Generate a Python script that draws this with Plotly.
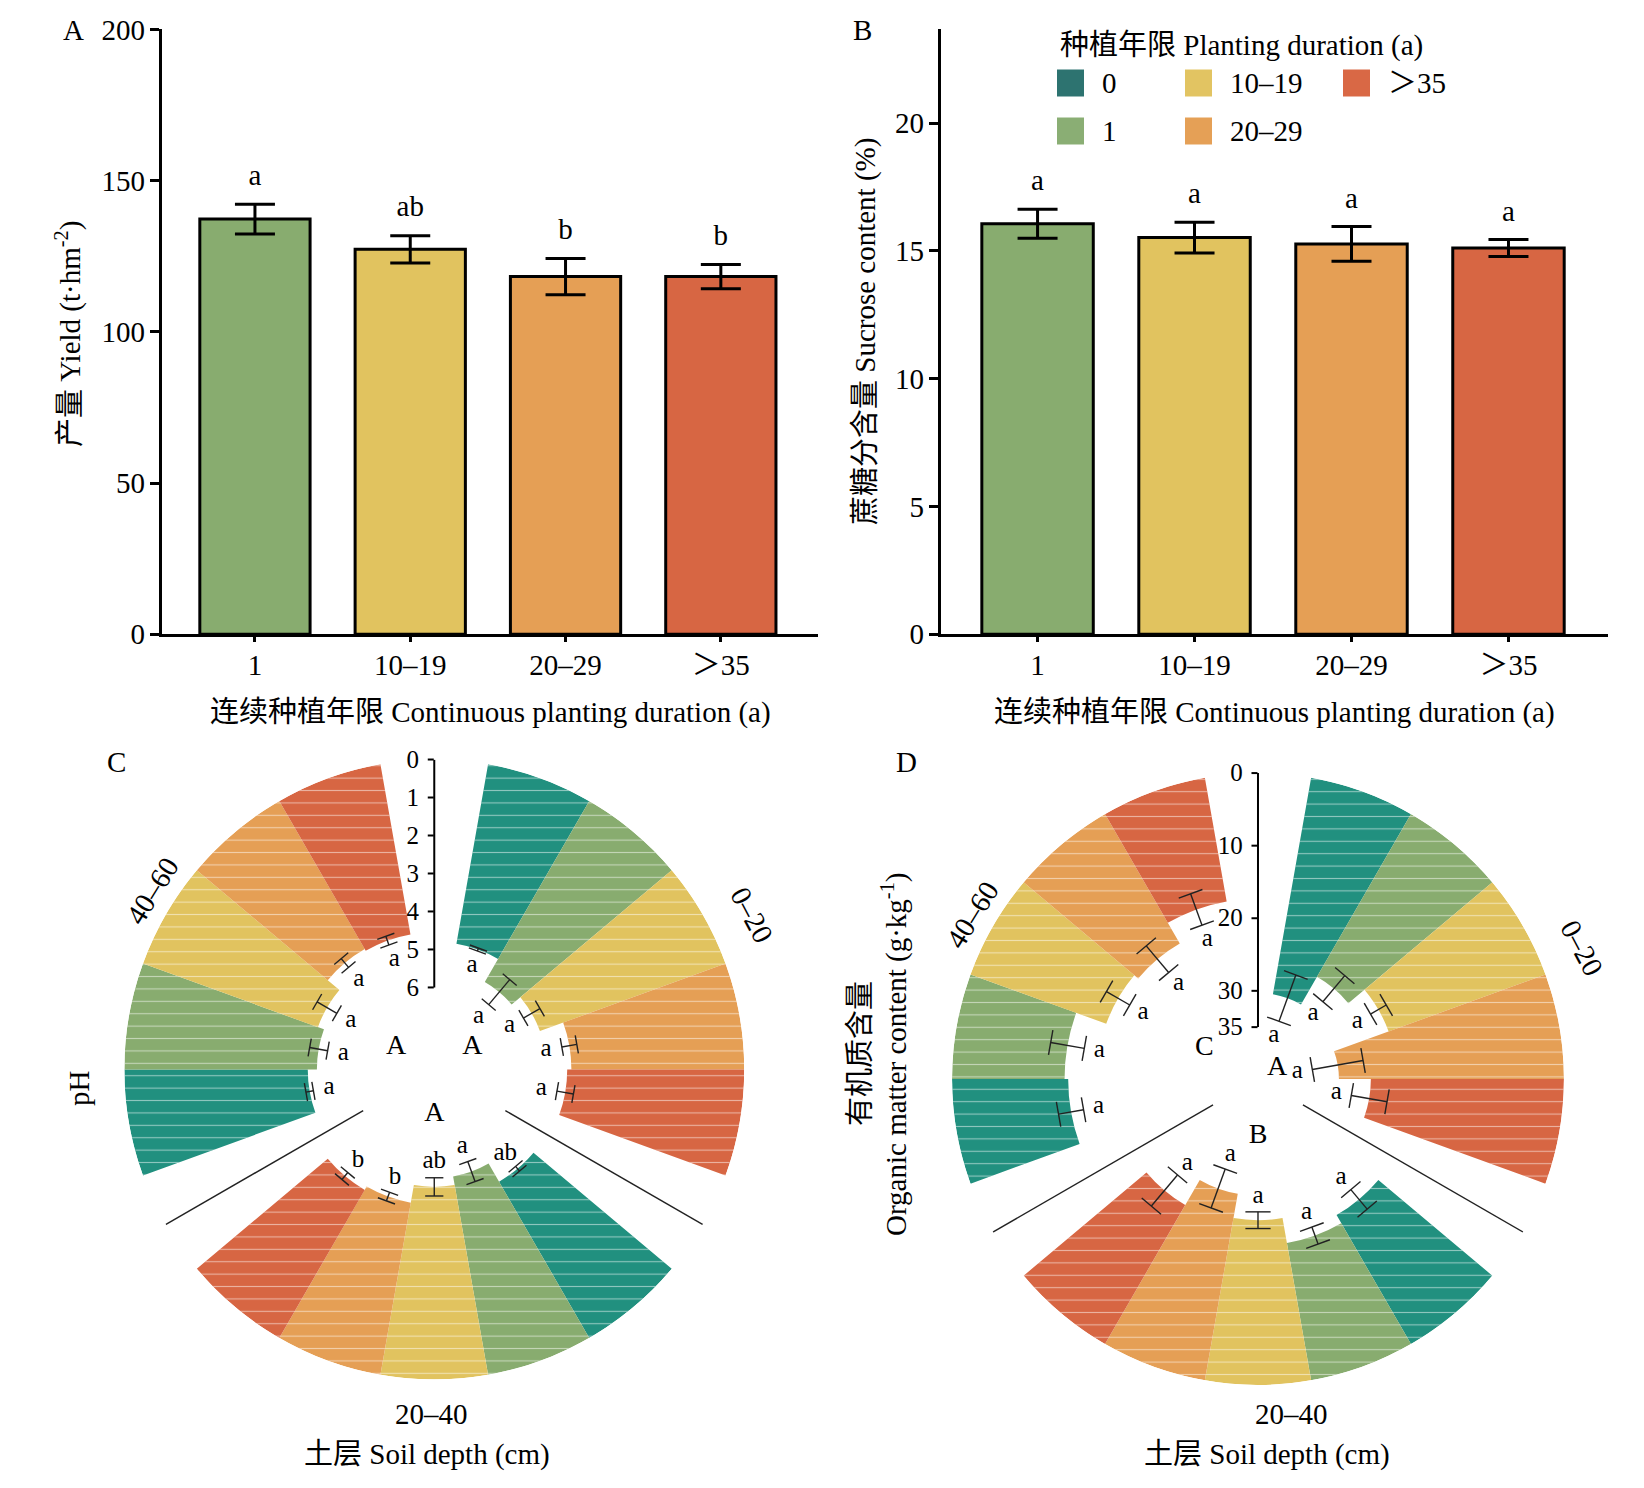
import plotly.graph_objects as go

W, H = 1644, 1488
SERIF = "Liberation Serif, 'Times New Roman', 'Noto Sans CJK SC', serif"

# ---------------- data ----------------
durations = ["1", "10–19", "20–29", "＞35"]
years = ["0", "1", "10–19", "20–29", "＞35"]
depths = ["0–20", "20–40", "40–60"]

yield_mean = [137.3, 127.3, 118.3, 118.3]
yield_se = [4.9, 4.5, 6.0, 4.0]
yield_sig = ["a", "ab", "b", "b"]

sucrose_mean = [16.06, 15.52, 15.27, 15.11]
sucrose_se = [0.57, 0.60, 0.68, 0.33]
sucrose_sig = ["a", "a", "a", "a"]

# pH by soil depth, order: 0, 1, 10-19, 20-29, >35
ph_0_20 = [4.80, 5.50, 5.20, 4.55, 4.66]
ph_20_40 = [4.75, 5.30, 5.07, 4.60, 4.50]
ph_40_60 = [4.83, 5.07, 4.90, 4.50, 4.55]
ph_se_0_20 = [0.04, 0.43, 0.25, 0.20, 0.22]
ph_se_20_40 = [0.08, 0.28, 0.24, 0.12, 0.12]
ph_se_40_60 = [0.10, 0.24, 0.30, 0.15, 0.12]
ph_sig_0_20 = ["a", "a", "a", "a", "a"]
ph_sig_20_40 = ["ab", "a", "ab", "b", "b"]
ph_sig_40_60 = ["a", "a", "a", "a", "a"]
ph_group_sig = ["A", "A", "A"]

# organic matter (g/kg)
om_0_20 = [30.3, 25.9, 23.0, 31.0, 26.6]
om_20_40 = [20.5, 19.2, 22.7, 26.1, 22.1]
om_40_60 = [16.0, 15.5, 19.9, 20.6, 17.3]
om_se_0_20 = [3.4, 2.35, 1.25, 3.55, 2.5]
om_se_20_40 = [1.75, 1.25, 1.15, 2.85, 2.8]
om_se_40_60 = [1.75, 2.35, 1.85, 2.4, 2.3]
om_sig_0_20 = ["a", "a", "a", "a", "a"]
om_sig_20_40 = ["a", "a", "a", "a", "a"]
om_sig_40_60 = ["a", "a", "a", "a", "a"]
om_group_sig = ["A", "B", "C"]

colors = ["#21907f", "#88ac6f", "#e1c35f", "#e59f55", "#d76643"]
legend_colors = ["#2d7370", "#8aae74", "#e2c462", "#e5a056", "#d96845"]

fig = go.Figure()


def note(text, x, y, size=29, angle=0, xanchor="center"):
    return dict(text=text, x=x / W, y=1 - y / H, xref="paper", yref="paper",
                showarrow=False, textangle=angle, xanchor=xanchor, yanchor="middle",
                font=dict(size=size, family=SERIF, color="black"))


def bar_panel(means, ses, sigs, xa, ya, gap):
    fig.add_trace(go.Bar(
        x=durations, y=means, width=0.71,
        marker=dict(color=colors[1:], line=dict(color="black", width=3)),
        error_y=dict(type="data", array=ses, color="black", thickness=3, width=20),
        xaxis=xa, yaxis=ya, showlegend=False, hoverinfo="skip"))
    fig.add_trace(go.Scatter(
        x=durations, y=[m + s + gap for m, s in zip(means, ses)],
        mode="text", text=sigs, textposition="top center",
        textfont=dict(size=29, family=SERIF, color="black"),
        xaxis=xa, yaxis=ya, showlegend=False, hoverinfo="skip"))


def polar_panel(sub, means, ses, sigs, group_sig, group_r, inner, outer, letter_gap, cap):
    theta, r, e, col, lab = [], [], [], [], []
    for g in range(3):
        for k in range(5):
            theta.append(120 * g + 20 * (k + 1))
            r.append(means[g][k])
            e.append(ses[g][k])
            col.append(colors[k])
            lab.append(sigs[g][k])
    fig.add_trace(go.Barpolar(
        r=r, theta=theta, width=20, subplot=sub, showlegend=False, hoverinfo="skip",
        marker=dict(color=col, line=dict(width=0))))
    # thin white stripes over the wedges
    fig.add_trace(go.Barpolar(
        r=r, theta=theta, width=20, subplot=sub, showlegend=False, hoverinfo="skip",
        marker=dict(color="white", opacity=0.5, line=dict(width=0),
                    pattern=dict(shape="-", size=12.4, solidity=0.09, fillmode="replace"))))
    # error bars
    er, et = [], []
    for ri, ei, ti in zip(r, e, theta):
        er += [ri - ei, ri + ei, None]
        et += [ti, ti, None]
    fig.add_trace(go.Scatterpolar(r=er, theta=et, mode="lines", subplot=sub,
                                  line=dict(color="#222222", width=1.4),
                                  showlegend=False, hoverinfo="skip"))
    fig.add_trace(go.Scatterpolar(
        r=[ri - ei for ri, ei in zip(r, e)] + [ri + ei for ri, ei in zip(r, e)],
        theta=theta + theta, mode="markers", subplot=sub, showlegend=False, hoverinfo="skip",
        marker=dict(symbol="line-ew", size=cap, angle=theta + theta,
                    line=dict(color="#222222", width=1.4))))
    # letters
    fig.add_trace(go.Scatterpolar(
        r=[ri + ei + letter_gap for ri, ei in zip(r, e)], theta=theta, mode="text",
        text=lab, subplot=sub, showlegend=False, hoverinfo="skip",
        textfont=dict(size=25, family=SERIF, color="black")))
    fig.add_trace(go.Scatterpolar(
        r=group_r, theta=[60, 180, 300], mode="text", text=group_sig, subplot=sub,
        showlegend=False, hoverinfo="skip",
        textfont=dict(size=28, family=SERIF, color="black")))
    # radial axis line and group separators
    fig.add_trace(go.Scatterpolar(r=[0, inner], theta=[0, 0], mode="lines", subplot=sub,
                                  line=dict(color="black", width=2),
                                  showlegend=False, hoverinfo="skip"))
    fig.add_trace(go.Scatterpolar(r=[inner, outer, None, inner, outer],
                                  theta=[120, 120, None, 240, 240],
                                  mode="lines", subplot=sub, cliponaxis=False,
                                  line=dict(color="#222222", width=1.4),
                                  showlegend=False, hoverinfo="skip"))


def polar_layout(dx, dy, rmax, tickvals):
    return dict(
        domain=dict(x=dx, y=dy), bgcolor="rgba(0,0,0,0)", barmode="overlay",
        angularaxis=dict(visible=False, rotation=90, direction="clockwise"),
        radialaxis=dict(range=[rmax, 0], tickvals=tickvals, showgrid=False, showline=False,
                        ticks="outside", ticklen=6, tickwidth=2, tickcolor="black",
                        angle=90, side="counterclockwise", tickangle=90,
                        tickfont=dict(size=25, family=SERIF, color="black")))


bar_panel(yield_mean, yield_se, yield_sig, "x", "y", 4)
bar_panel(sucrose_mean, sucrose_se, sucrose_sig, "x2", "y2", 0.45)

polar_panel("polar", [ph_0_20, ph_20_40, ph_40_60], [ph_se_0_20, ph_se_20_40, ph_se_40_60],
            [ph_sig_0_20, ph_sig_20_40, ph_sig_40_60], ph_group_sig, [7.0, 7.0, 7.0],
            6, -0.35, 0.42, 13)
polar_panel("polar2", [om_0_20, om_20_40, om_40_60], [om_se_0_20, om_se_20_40, om_se_40_60],
            [om_sig_0_20, om_sig_20_40, om_sig_40_60], om_group_sig, [39.1, 34.3, 33.6],
            35, -1.2, 2.1, 18)

xax = dict(type="category", showline=True, linewidth=3, linecolor="black", ticks="outside",
           ticklen=5, tickwidth=3, tickcolor="black", ticklabelstandoff=-2, showgrid=False,
           automargin=False, tickfont=dict(size=29, family=SERIF, color="black"))
yax = dict(showline=True, linewidth=3, linecolor="black", ticks="outside", ticklen=9,
           tickwidth=3, tickcolor="black", ticklabelstandoff=-1, showgrid=False, zeroline=False,
           automargin=False, tickfont=dict(size=29, family=SERIF, color="black"))

annotations = [
    note("A", 73, 30), note("B", 862, 30), note("C", 116, 762), note("D", 906, 762),
    note("产量 Yield (t·hm<sup>-2</sup>)", 68, 334, angle=-90),
    note("蔗糖分含量 Sucrose content (%)", 865, 332, angle=-90),
    note("连续种植年限 Continuous planting duration (a)", 490, 712),
    note("连续种植年限 Continuous planting duration (a)", 1274, 712),
    note("pH", 79, 1088, angle=-90),
    note("有机质含量", 860, 1054, angle=-90),
    note("Organic matter content (g·kg<sup>-1</sup>)", 894, 1054, angle=-90),
    note(depths[0], 752, 915, angle=62), note(depths[1], 431, 1414), note(depths[2], 152, 891, angle=-58),
    note(depths[0], 1582, 948, angle=62), note(depths[1], 1291, 1414), note(depths[2], 972, 915, angle=-58),
    note("土层 Soil depth (cm)", 427, 1454), note("土层 Soil depth (cm)", 1267, 1454),
    note("种植年限 Planting duration (a)", 1058, 45, xanchor="left"),
]

# manual legend (column-major, 2 rows)
shapes = []
col_x = [1057, 1185, 1343]
row_y = [83, 131]
for i, name in enumerate(years):
    cx, cy = col_x[i // 2], row_y[i % 2]
    shapes.append(dict(type="rect", xref="paper", yref="paper",
                       x0=cx / W, x1=(cx + 27) / W, y0=1 - (cy + 13.5) / H, y1=1 - (cy - 13.5) / H,
                       fillcolor=legend_colors[i], line=dict(width=0)))
    annotations.append(note(name, cx + 43, cy, xanchor="left"))

fig.update_layout(
    template="none",
    width=W, height=H, margin=dict(l=0, r=0, t=0, b=0, autoexpand=False),
    paper_bgcolor="white", plot_bgcolor="white", showlegend=False,
    font=dict(family=SERIF, color="black"),
    xaxis=dict(xax, domain=[0.0984, 0.4976], range=[-0.6, 3.626], anchor="y"),
    yaxis=dict(yax, domain=[0.5737, 0.9802], range=[0, 200], dtick=50, anchor="x"),
    xaxis2=dict(xax, domain=[0.5723, 0.9781], range=[-0.616, 3.634], anchor="y2"),
    yaxis2=dict(yax, domain=[0.5737, 0.9802], range=[0, 23.66], dtick=5, anchor="x2"),
    polar=polar_layout([0.0756, 0.4527], [0.0729, 0.4896], 8.16, [0, 1, 2, 3, 4, 5, 6]),
    polar2=polar_layout([0.5791, 0.9513], [0.0692, 0.4805], 42.15, [0, 10, 20, 30, 35]),
    annotations=annotations, shapes=shapes,
)

fig.write_html("out.html", config={"displayModeBar": False},
               post_script="document.body.style.margin='0px';")
